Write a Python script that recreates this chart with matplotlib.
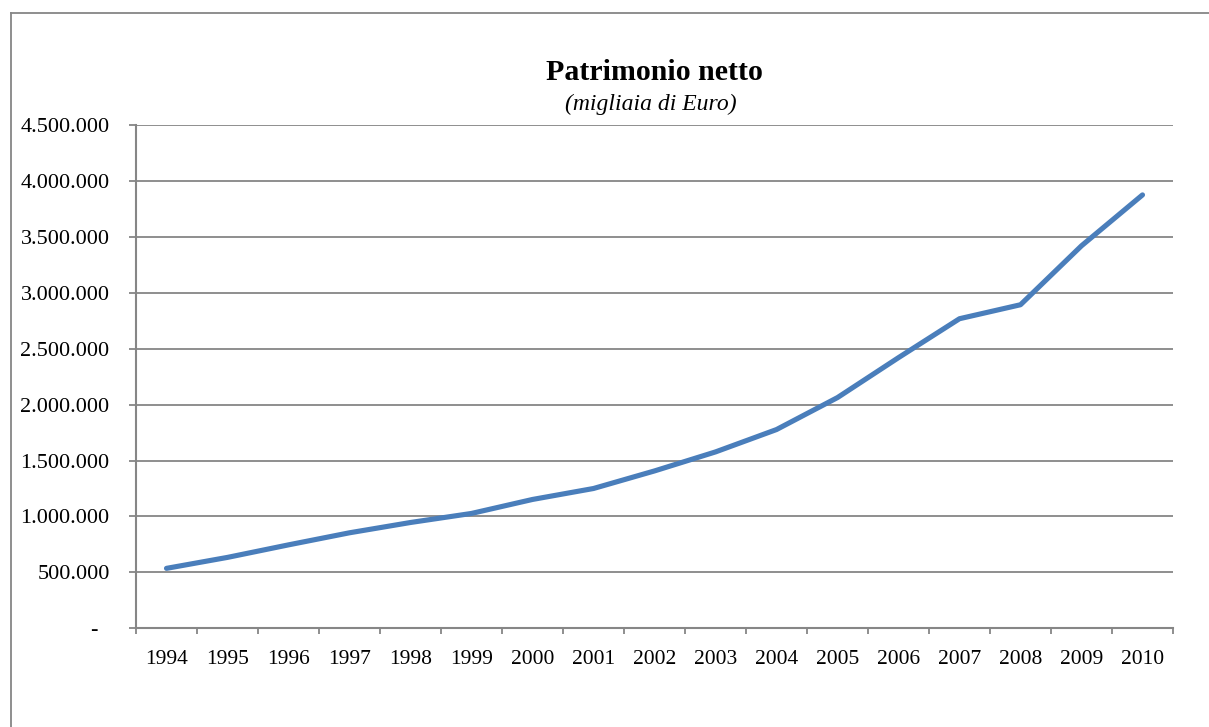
import matplotlib
matplotlib.use("Agg")
import matplotlib.pyplot as plt
from matplotlib.lines import Line2D
import numpy as np

# Patrimonio netto (migliaia di Euro)
years = ["1994", "1995", "1996", "1997", "1998", "1999", "2000", "2001",
         "2002", "2003", "2004", "2005", "2006", "2007", "2008", "2009", "2010"]
patrimonio = [536000, 634000, 746000, 854000, 946000, 1027000, 1152000,
              1250000, 1407000, 1577000, 1777000, 2063000, 2420000, 2768000,
              2893000, 3420000, 3875000]
y_ticks = [0, 500000, 1000000, 1500000, 2000000, 2500000, 3000000,
           3500000, 4000000, 4500000]
y_labels = ["-  ", "500.000", "1.000.000", "1.500.000", "2.000.000",
            "2.500.000", "3.000.000", "3.500.000", "4.000.000", "4.500.000"]

plt.rcParams['font.family'] = ['Liberation Serif', 'DejaVu Serif']
grey = '#868686'

fig = plt.figure(figsize=(12.09, 7.27), dpi=100)
axis = fig.add_axes([136 / 1209, 1 - 628.3 / 727, (1173 - 136) / 1209,
                     (628.3 - 125) / 727])

x_pos = np.arange(len(years))
axis.plot(x_pos, patrimonio, color='#4A7EBB', linewidth=3.7,
          solid_capstyle='round', solid_joinstyle='round', zorder=3)

axis.set_xlim(-0.5, len(years) - 0.5)
axis.set_ylim(0, 4500000)
axis.set_yticks(y_ticks)
axis.set_yticklabels(y_labels, fontsize=16)
axis.set_xticks(x_pos)
axis.set_xticklabels(years, fontsize=15.5)
axis.set_xticks(np.arange(-0.5, len(years)), minor=True)
axis.tick_params(axis='x', which='major', length=0, pad=15.5)
axis.tick_params(axis='x', which='minor', length=4.3, width=1.3, color=grey,
                 direction='out')
axis.tick_params(axis='y', length=5, width=1.3, color=grey, direction='out',
                 pad=14)
axis.grid(axis='y', color=grey, linewidth=1.3)
axis.set_axisbelow(True)
for side in ['top', 'right']:
    axis.spines[side].set_visible(False)
for side in ['left', 'bottom']:
    axis.spines[side].set_color(grey)
    axis.spines[side].set_linewidth(1.5)

cx = (136 + 1173) / 2 / 1209
fig.text(cx, 1 - 72 / 727, "Patrimonio netto", ha='center', va='center',
         fontsize=21.5, fontweight='bold')
fig.text(cx - 4 / 1209, 1 - 104 / 727, "(migliaia di Euro)", ha='center',
         va='center', fontsize=17, style='italic')

# outer chart frame
fig.add_artist(Line2D([11 / 1209, 11 / 1209], [0, 1 - 13 / 727],
                      transform=fig.transFigure, color=grey, linewidth=1.3))
fig.add_artist(Line2D([11 / 1209, 1], [1 - 13 / 727, 1 - 13 / 727],
                      transform=fig.transFigure, color=grey, linewidth=1.3))

fig.savefig("out.png", dpi=100)
plt.close()
